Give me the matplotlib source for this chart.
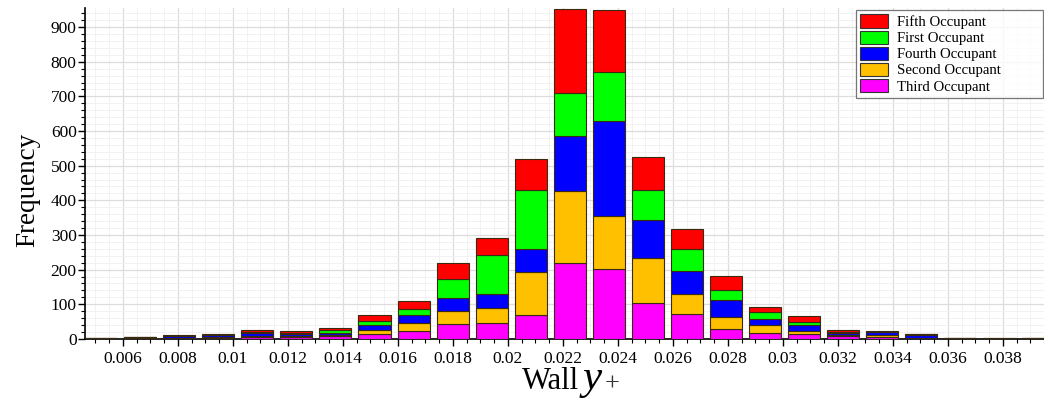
import matplotlib
matplotlib.use("Agg")
import matplotlib.pyplot as plt
from matplotlib.ticker import MultipleLocator, FuncFormatter
from matplotlib.patches import Patch
import numpy as np

plt.rcParams["font.family"] = ["Liberation Serif", "DejaVu Serif"]

# histogram bins of wall y+ (25 bins)
bin_start = 0.0045
bin_width = 0.00142
n_bins = 25

third = [1, 2, 3, 4, 5, 5, 8, 13, 24, 42, 45, 69, 220, 203, 104, 73, 30, 18, 13, 8, 6, 3, 1, 1, 1]
second = [0, 1, 1, 2, 4, 3, 3, 12, 21, 40, 45, 125, 208, 151, 130, 57, 33, 21, 10, 3, 4, 1, 0, 0, 0]
fourth = [1, 2, 3, 4, 8, 6, 7, 14, 24, 37, 40, 66, 157, 276, 108, 66, 49, 18, 16, 5, 11, 8, 1, 0, 1]
first = [0, 0, 1, 1, 3, 4, 9, 12, 16, 53, 111, 171, 125, 140, 89, 64, 28, 20, 9, 5, 0, 1, 0, 2, 0]
fifth = [0, 1, 3, 4, 7, 4, 5, 17, 24, 46, 51, 89, 242, 178, 94, 58, 41, 16, 19, 6, 1, 2, 1, 0, 0]

series = [
    ("Third Occupant", third, "#ff00ff"),
    ("Second Occupant", second, "#ffc000"),
    ("Fourth Occupant", fourth, "#0000ff"),
    ("First Occupant", first, "#00ff00"),
    ("Fifth Occupant", fifth, "#ff0000"),
]
legend_order = ["Fifth Occupant", "First Occupant", "Fourth Occupant", "Second Occupant", "Third Occupant"]

centers = bin_start + bin_width * (np.arange(n_bins) + 0.5)

fig = plt.figure(figsize=(10.44, 4.03), dpi=100)
ax = fig.add_axes([0.0814, 0.159, 0.9186, 0.821])

bottom = np.zeros(n_bins)
for name, vals, color in series:
    v = np.array(vals, dtype=float)
    ax.bar(centers, v, width=bin_width * 0.82, bottom=bottom, color=color,
           edgecolor="#3a2a10", linewidth=0.8, zorder=3)
    bottom += v

ax.set_xlim(0.00462, 0.0395)
ax.set_ylim(0, 955)

ax.xaxis.set_major_locator(MultipleLocator(0.002))
ax.xaxis.set_minor_locator(MultipleLocator(0.0005))
ax.yaxis.set_major_locator(MultipleLocator(100))
ax.yaxis.set_minor_locator(MultipleLocator(20))
ax.xaxis.set_major_formatter(FuncFormatter(lambda v, p: f"{v:.3f}".rstrip("0")))

ax.grid(which="major", color="#dddddd", linewidth=0.9, zorder=0)
ax.grid(which="minor", color="#f0f0f0", linewidth=0.6, zorder=0)
ax.set_axisbelow(True)

for s in ["top", "right"]:
    ax.spines[s].set_visible(False)
ax.spines["left"].set_linewidth(1.2)
ax.spines["bottom"].set_linewidth(1.2)

ax.tick_params(axis="both", which="major", labelsize=12.5, length=5, width=1, direction="out")
ax.tick_params(axis="both", which="minor", length=3, width=0.8, direction="out")
ax.tick_params(axis="y", pad=1)

ax.set_ylabel("Frequency", fontsize=19.5)
ax.yaxis.set_label_coords(-0.047, 0.45)

fig.text(0.555, 0.035, "Wall", fontsize=22, ha="right", va="baseline")
fig.text(0.558, 0.035, "y", fontsize=31, style="italic", ha="left", va="baseline")
fig.text(0.579, 0.03, "+", fontsize=19, ha="left", va="baseline", color="#333333")

handles_map = {name: Patch(facecolor=color, edgecolor="#333333", linewidth=0.8)
               for name, _, color in series}
leg = ax.legend([handles_map[n] for n in legend_order], legend_order,
                loc="upper left", bbox_to_anchor=(0.804, 0.994, 0.195, 0.0),
                mode="expand", fontsize=10.6,
                frameon=True, fancybox=False, edgecolor="#555555",
                handlelength=1.9, handleheight=1.0, handletextpad=0.6,
                labelspacing=0.1, borderpad=0.3, borderaxespad=0.0)
leg.get_frame().set_linewidth(0.9)

fig.savefig("out.png", dpi=100)
